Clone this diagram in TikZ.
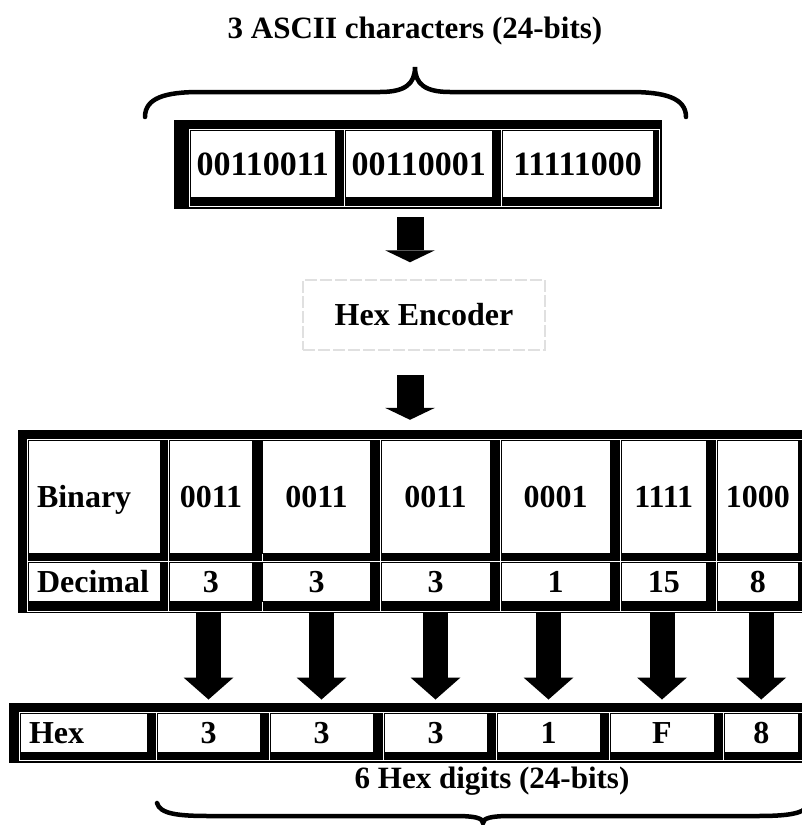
\documentclass[tikz,border=0pt]{standalone}
\usepackage{fontspec}
\setmainfont{Liberation Serif}
\usetikzlibrary{arrows.meta}

\begin{document}
\begin{tikzpicture}[
    x=1pt, y=-1pt,
    tableframe/.style={rectangle, fill=black, inner sep=0pt},
    gridline/.style={draw=white, line width=1pt},
    cell/.style={rectangle, draw=black, line width=1pt, fill=white, inner sep=0pt, align=center, text height=21pt, text depth=0pt, font=\bfseries\fontsize{32}{36}\selectfont},
    hdrcell/.style={cell, inner xsep=9pt, align=left},
    bitcell/.style={cell, text height=22pt, font=\bfseries\fontsize{34}{38}\selectfont},
    titletext/.style={font=\bfseries\fontsize{31}{36}\selectfont},
    encbox/.style={rectangle, draw=black!12, line width=1.5pt, dash pattern=on 12pt off 3pt, minimum width=242pt, minimum height=70pt, font=\bfseries\fontsize{32}{36}\selectfont},
    topblock/.style={line width=27pt, -{Triangle[width=50pt, length=12pt, line width=0pt]}},
    blockarrow/.style={line width=25pt, -{Triangle[width=50pt, length=22pt, line width=0pt]}},
    brace/.style={draw=black, line width=4.5pt, line cap=round}
]
\useasboundingbox (0,0) rectangle (802,825);

% Input characters
\node[titletext] (title) at (415,31) {3 ASCII characters (24-bits)};
\draw[brace] (145,117) .. controls (145,98) and (165,92) .. (200,92) -- (380,92)
    .. controls (405,92) and (415,84) .. (415,67)
    .. controls (415,84) and (425,92) .. (450,92) -- (630,92)
    .. controls (665,92) and (686,98) .. (686,117);

\node[tableframe, minimum width=488pt, minimum height=89pt] (asciitab) at (418,164.5) {};
\draw[gridline] (189,129.5) rectangle (659.3,206.7) (344,129.5) -- (344,206.7) (501,129.5) -- (501,206.7);
\node[bitcell, minimum width=145.5pt, minimum height=67pt] (ch1) at (262.75,164) {00110011};
\node[bitcell, minimum width=147.5pt, minimum height=67pt] (ch2) at (418.75,164) {00110001};
\node[bitcell, minimum width=151pt, minimum height=67pt] (ch3) at (577.5,164) {11111000};

% Encoder
\node[encbox] (encoder) at (424,315) {Hex Encoder};

% Binary / decimal table
\node[tableframe, minimum width=794pt, minimum height=182.5pt] (bintab) at (415,521.25) {};
\draw[gridline] (27.3,439) rectangle (807,611) (27.3,561) -- (807,561)
    (168.3,439) -- (168.3,611) (262,439) -- (262,611) (380,439) -- (380,611)
    (500,439) -- (500,611) (620,439) -- (620,611) (716,439) -- (716,611);

\node[hdrcell, text width=114pt, minimum height=113pt] (bin) at (94,496.5) {Binary};
\node[cell, minimum width=83.2pt, minimum height=113pt] (b1) at (210.9,496.5) {0011};
\node[cell, minimum width=107.8pt, minimum height=113pt] (b2) at (316.6,496.5) {0011};
\node[cell, minimum width=109pt, minimum height=113pt] (b3) at (435.5,496.5) {0011};
\node[cell, minimum width=109pt, minimum height=113pt] (b4) at (555.5,496.5) {0001};
\node[cell, minimum width=85.5pt, minimum height=113pt] (b5) at (663.75,496.5) {1111};
\node[cell, minimum width=81.5pt, minimum height=113pt] (b6) at (757.75,496.5) {1000};

\node[hdrcell, text width=114pt, minimum height=39.5pt] (dec) at (94,581.75) {Decimal};
\node[cell, minimum width=83.2pt, minimum height=39.5pt] (d1) at (210.9,581.75) {3};
\node[cell, minimum width=107.8pt, minimum height=39.5pt] (d2) at (316.6,581.75) {3};
\node[cell, minimum width=109pt, minimum height=39.5pt] (d3) at (435.5,581.75) {3};
\node[cell, minimum width=109pt, minimum height=39.5pt] (d4) at (555.5,581.75) {1};
\node[cell, minimum width=85.5pt, minimum height=39.5pt] (d5) at (663.75,581.75) {15};
\node[cell, minimum width=81.5pt, minimum height=39.5pt] (d6) at (757.75,581.75) {8};

% Hex table
\node[tableframe, minimum width=803pt, minimum height=60pt] (hextab) at (410.5,733) {};
\draw[gridline] (19,712.3) rectangle (807,760.7)
    (156,712.3) -- (156,760.7) (269,712.3) -- (269,760.7) (383,712.3) -- (383,760.7)
    (496,712.3) -- (496,760.7) (609,712.3) -- (609,760.7) (723,712.3) -- (723,760.7);

\node[hdrcell, text width=109pt, minimum height=39pt] (hex) at (83.5,732.5) {Hex};
\node[cell, minimum width=103pt, minimum height=39pt] (h1) at (208.5,732.5) {3};
\node[cell, minimum width=103pt, minimum height=39pt] (h2) at (321.5,732.5) {3};
\node[cell, minimum width=103pt, minimum height=39pt] (h3) at (435.5,732.5) {3};
\node[cell, minimum width=103pt, minimum height=39pt] (h4) at (548.5,732.5) {1};
\node[cell, minimum width=104pt, minimum height=39pt] (h5) at (662,732.5) {F};
\node[cell, minimum width=74.5pt, minimum height=39pt] (h6) at (761.25,732.5) {8};

\node[titletext] (hexlabel) at (492,781) {6 Hex digits (24-bits)};
\draw[brace] (157,803) .. controls (160,814) and (178,816) .. (210,816) -- (455,816)
    .. controls (475,816) and (483,818) .. (483,823)
    .. controls (483,818) and (491,816) .. (511,816) -- (756,816)
    .. controls (788,816) and (806,814) .. (809,803);

% Arrows
\draw[topblock] ([xshift=-8pt,yshift=-8pt]asciitab.south) -- ([xshift=-14pt,yshift=17pt]encoder.north);
\draw[topblock] ([xshift=-14pt,yshift=-24pt]encoder.south) -- ([xshift=-5pt,yshift=10pt]bintab.north);
\draw[blockarrow] (h1.north |- bintab.south) -- ([yshift=13pt]h1.north);
\draw[blockarrow] (h2.north |- bintab.south) -- ([yshift=13pt]h2.north);
\draw[blockarrow] (h3.north |- bintab.south) -- ([yshift=13pt]h3.north);
\draw[blockarrow] (h4.north |- bintab.south) -- ([yshift=13pt]h4.north);
\draw[blockarrow] (h5.north |- bintab.south) -- ([yshift=13pt]h5.north);
\draw[blockarrow] (h6.north |- bintab.south) -- ([yshift=13pt]h6.north);

\end{tikzpicture}
\end{document}
